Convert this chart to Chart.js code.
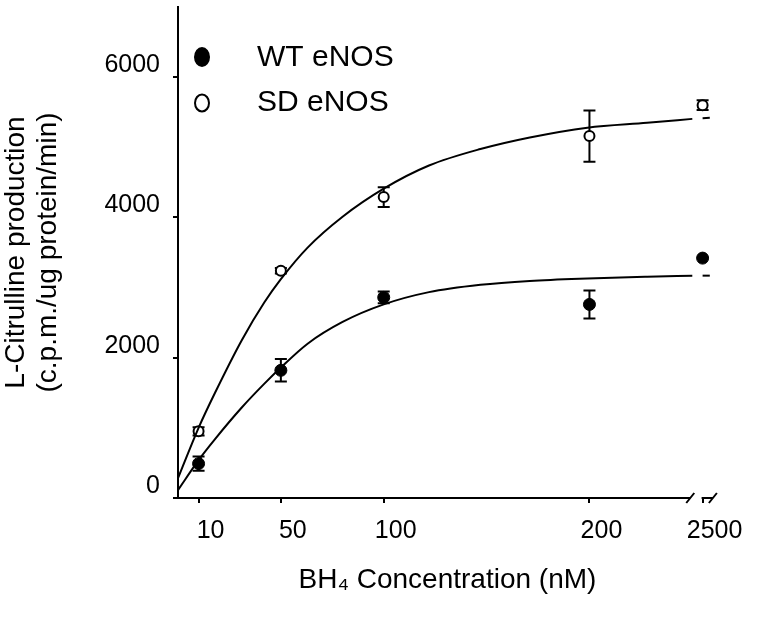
<!DOCTYPE html>
<html lang="en">
<head>
<meta charset="UTF-8">
<title>BH4 Concentration</title>
<script src="https://cdn.jsdelivr.net/npm/chart.js"></script>
<style>
  html, body { margin: 0; padding: 0; background: #fff; }
  #wrap { width: 757px; height: 619px; }
</style>
</head>
<body>
<div id="wrap"><canvas id="chart"></canvas></div>
<script>
  // concentrations (nM) - 2500 is drawn past the axis break, at position 255
  const doseLabels = ['10', '50', '100', '200', '2500'];
  const dosePos = [10, 50, 100, 200, 255];
  const seriesNames = ['WT eNOS', 'SD eNOS'];

  // means and error bars
  const wtMean = [490, 1820, 2860, 2760, 3420];
  const wtErr = [100, 160, 85, 200, 0];
  const sdMean = [950, 3240, 4290, 5160, 5600];
  const sdErr = [60, 40, 140, 365, 70];

  // fitted curves
  const fitX = [0, 10, 18, 31, 42, 50, 63, 80, 100, 122, 147, 171, 199, 228, 250];
  const wtFit = [113, 540, 840, 1290, 1630, 1860, 2200, 2510, 2760, 2935, 3040, 3095, 3130, 3155, 3170];
  const sdFit = [282, 1000, 1500, 2250, 2790, 3120, 3570, 4010, 4410, 4740, 4975, 5140, 5280, 5350, 5405];
  // short piece of each curve past the break
  const tailX = [255, 258.5];
  const wtTail = [3170, 3170];
  const sdTail = [5415, 5420];

  const yTicks = [0, 2000, 4000, 6000];
  const xBreak = 249;

  const pts = (xs, ys) => xs.map((x, i) => ({ x: x, y: ys[i] }));

  const errorBars = {
    id: 'errorBars',
    beforeDatasetsDraw(chart) {
      const ctx = chart.ctx, xs = chart.scales.x, ys = chart.scales.y;
      ctx.save();
      ctx.strokeStyle = '#000';
      ctx.lineWidth = 2;
      chart.data.datasets.forEach(ds => {
        if (!ds.err) return;
        ds.data.forEach((p, i) => {
          const e = ds.err[i];
          if (!e) return;
          const px = xs.getPixelForValue(p.x);
          const top = ys.getPixelForValue(p.y + e), bot = ys.getPixelForValue(p.y - e);
          ctx.beginPath();
          ctx.moveTo(px, top); ctx.lineTo(px, bot);
          ctx.moveTo(px - 6, top); ctx.lineTo(px + 6, top);
          ctx.moveTo(px - 6, bot); ctx.lineTo(px + 6, bot);
          ctx.stroke();
        });
      });
      ctx.restore();
    }
  };

  // x axis line with a break before 2500
  const brokenAxis = {
    id: 'brokenAxis',
    afterDraw(chart) {
      const ctx = chart.ctx, xs = chart.scales.x, ys = chart.scales.y;
      const y0 = ys.getPixelForValue(0);
      const x0 = xs.getPixelForValue(0), x1 = xs.getPixelForValue(xBreak);
      const x2 = xs.getPixelForValue(255), x3 = xs.getPixelForValue(260);
      ctx.save();
      ctx.strokeStyle = '#000';
      ctx.lineWidth = 2;
      ctx.beginPath();
      ctx.moveTo(x0 - 1, y0); ctx.lineTo(x1, y0);
      ctx.moveTo(x1 - 4, y0 + 5); ctx.lineTo(x1 + 4, y0 - 5);
      ctx.moveTo(x2 - 1, y0); ctx.lineTo(x3, y0);
      ctx.moveTo(x3 - 4, y0 + 5); ctx.lineTo(x3 + 4, y0 - 5);
      ctx.stroke();
      ctx.restore();
    }
  };

  const legendBox = {
    id: 'legendBox',
    afterDraw(chart) {
      const ctx = chart.ctx;
      ctx.save();
      ctx.font = '30px "Liberation Sans", Arial, sans-serif';
      ctx.fillStyle = '#000';
      ctx.textBaseline = 'middle';
      ctx.beginPath();
      ctx.ellipse(202, 57, 8, 10, 0, 0, Math.PI * 2);
      ctx.fill();
      ctx.fillText(seriesNames[0], 257, 58);
      ctx.beginPath();
      ctx.ellipse(202, 103, 7, 8.5, 0, 0, Math.PI * 2);
      ctx.lineWidth = 2;
      ctx.stroke();
      ctx.fillText(seriesNames[1], 257, 103);
      ctx.restore();
    }
  };

  const curve = (data) => ({
    type: 'line', data: data, borderColor: '#000', borderWidth: 2,
    pointRadius: 0, fill: false, cubicInterpolationMode: 'monotone'
  });

  new Chart(document.getElementById('chart'), {
    type: 'scatter',
    data: {
      datasets: [
        curve(pts(fitX, wtFit)),
        curve(pts(fitX, sdFit)),
        curve(pts(tailX, wtTail)),
        curve(pts(tailX, sdTail)),
        {
          label: seriesNames[0], data: pts(dosePos, wtMean), err: wtErr,
          pointRadius: 6, pointBackgroundColor: '#000', pointBorderColor: '#000', pointBorderWidth: 1
        },
        {
          label: seriesNames[1], data: pts(dosePos, sdMean), err: sdErr,
          pointRadius: 5, pointBackgroundColor: '#fff', pointBorderColor: '#000', pointBorderWidth: 2
        }
      ]
    },
    options: {
      responsive: true,
      maintainAspectRatio: false,
      animation: false,
      layout: { padding: { top: 2, right: 40, left: 0, bottom: 0 } },
      plugins: { legend: { display: false }, tooltip: { enabled: false } },
      scales: {
        x: {
          type: 'linear', min: 0, max: 262,
          afterBuildTicks: s => { s.ticks = dosePos.map(v => ({ value: v })); },
          afterFit: s => { s.height = 121; s.paddingLeft = 0; s.paddingRight = 0; },
          border: { display: false },
          grid: { drawOnChartArea: false, tickLength: 5, lineWidth: 2, color: '#000' },
          ticks: {
            color: '#000', padding: 13, labelOffset: 12, maxRotation: 0,
            font: { family: '"Liberation Sans", Arial, sans-serif', size: 25 },
            callback: v => doseLabels[dosePos.indexOf(v)]
          },
          title: {
            display: true, text: 'BH\u2084 Concentration (nM)', color: '#000',
            font: { family: '"Liberation Sans", Arial, sans-serif', size: 28 },
            padding: { top: 0, bottom: 22 }
          }
        },
        y: {
          min: 0, max: 7000,
          afterBuildTicks: s => { s.ticks = yTicks.map(v => ({ value: v })); },
          afterFit: s => { s.width = 178; s.paddingTop = 0; s.paddingBottom = 0; },
          border: { display: true, color: '#000', width: 2 },
          grid: { drawOnChartArea: false, tickLength: 5, lineWidth: 2, color: '#000' },
          ticks: {
            color: '#000', padding: 13, labelOffset: -12,
            font: { family: '"Liberation Sans", Arial, sans-serif', size: 25 },
            callback: v => String(v)
          },
          title: {
            display: true, text: ['L-Citrulline production', '(c.p.m./ug protein/min)'], color: '#000',
            font: { family: '"Liberation Sans", Arial, sans-serif', size: 28, lineHeight: 1.15 },
            padding: { top: 0, bottom: 0 }
          }
        }
      }
    },
    plugins: [errorBars, brokenAxis, legendBox]
  });
</script>
</body>
</html>
